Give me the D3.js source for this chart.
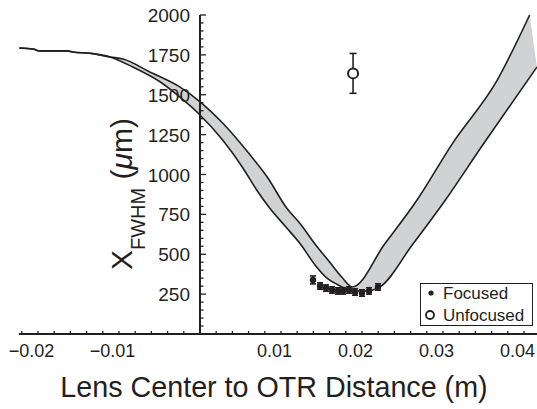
<!DOCTYPE html>
<html lang="en">
<head>
<meta charset="UTF-8">
<title>X FWHM vs lens distance</title>
<style>
  html, body { margin: 0; padding: 0; background: #fff; }
  svg text { font-family: "Liberation Sans", Arial, Helvetica, sans-serif; fill: #231f20; }
</style>
</head>
<body>
<svg id="chart" width="537" height="409"></svg>
<script src="https://d3js.org/d3.v7.min.js"></script>
<script>
// upper / lower edges of the simulated band (x in m, y in um)
const upperX = [-0.0215,-0.0198,-0.0190,-0.0156,-0.0149,-0.0128,-0.0103,-0.0087,-0.0054,-0.0017,0.0010,0.0036,0.0070,0.0091,0.0115,0.0132,0.0150,0.0169,0.0183,0.0196,0.0236,0.0276,0.0320,0.0375,0.0415];
const upperY = [1793,1787,1775,1775,1768,1760,1737,1724,1643,1549,1448,1323,1122,984,790,690,564,445,357,295,564,840,1197,1592,2000];
const lowerX = [-0.0215,-0.0198,-0.0190,-0.0156,-0.0149,-0.0128,-0.0103,-0.0075,-0.0041,-0.0017,0.0008,0.0036,0.0061,0.0078,0.0094,0.0113,0.0132,0.0150,0.0166,0.0181,0.0196,0.0213,0.0230,0.0270,0.0311,0.0357,0.0424];
const lowerY = [1793,1787,1775,1775,1768,1760,1737,1674,1580,1486,1373,1216,1041,903,790,677,564,433,345,301,270,270,295,558,840,1185,1674];

// measured points
const focusedX = [0.01475,0.01562,0.01636,0.01710,0.01784,0.01846,0.01920,0.01994,0.02080,0.02167,0.02278];
const focusedY = [339,301,288,276,270,270,276,263,257,270,295];
const focusedErr = [25,20,20,20,20,20,20,20,20,20,20];
const unfocusedX = [0.0197];
const unfocusedY = [1634];
const unfocusedErr = [125];

const xTickLabels = [-0.02,-0.01,0.01,0.02,0.03,0.04];
const yTickLabels = [250,500,750,1000,1250,1500,1750,2000];

const svg = d3.select("#chart");
const x = d3.scaleLinear().domain([-0.02, 0.04]).range([31.5, 517.5]);
const y = d3.scaleLinear().domain([0, 2000]).range([334, 15]);
const axisX0 = 0.0008;          // where the y axis crosses
const xLeft = x.invert(19), xRight = x.invert(537);

const pts = (xs, ys) => xs.map((v, i) => [x(v), y(ys[i])]);
const upper = pts(upperX, upperY), lower = pts(lowerX, lowerY);
const line = d3.line().curve(d3.curveMonotoneX);

// gray band
const back = line(lower.slice().reverse()).replace(/^M/, "L");
svg.append("path")
  .attr("d", line(upper) + back + "Z")
  .attr("fill", "#d1d2d4").attr("stroke", "none");

[upper, lower].forEach(p => svg.append("path")
  .attr("d", line(p)).attr("fill", "none")
  .attr("stroke", "#231f20").attr("stroke-width", 1.6));

// axes
const ax = svg.append("g").attr("stroke", "#231f20");
ax.append("line").attr("x1", 19).attr("x2", 537)
  .attr("y1", y(0)).attr("y2", y(0)).attr("stroke-width", 2);
ax.append("line").attr("x1", x(axisX0)).attr("x2", x(axisX0))
  .attr("y1", y(2000)).attr("y2", y(0) + 1).attr("stroke-width", 2);

// x minor ticks every 0.002 from the crossing point
d3.range(-11, 21).forEach(k => {
  const xv = axisX0 + k * 0.002;
  if (xv < xLeft || xv > xRight || k === 0) return;
  ax.append("line").attr("x1", x(xv)).attr("x2", x(xv))
    .attr("y1", y(0)).attr("y2", y(0) - 3).attr("stroke-width", 1.3);
});
// y ticks every 50
d3.range(50, 2001, 50).forEach(v => {
  const major = v % 250 === 0;
  ax.append("line").attr("x1", x(axisX0)).attr("x2", x(axisX0) + (major ? 6 : 3.5))
    .attr("y1", y(v)).attr("y2", y(v)).attr("stroke-width", 1.3);
});

svg.append("g").selectAll("text").data(xTickLabels).join("text")
  .attr("x", d => x(d)).attr("y", 357)
  .attr("text-anchor", "middle").attr("font-size", 18)
  .text(d => d3.format("")(d));
svg.append("g").selectAll("text").data(yTickLabels).join("text")
  .attr("x", 190).attr("y", d => y(d) + 7)
  .attr("text-anchor", "end").attr("font-size", 19)
  .text(d => d);

// axis titles
svg.append("text").attr("x", 274).attr("y", 397)
  .attr("text-anchor", "middle").attr("font-size", 28.7)
  .text("Lens Center to OTR Distance (m)");
const yt = svg.append("text").attr("transform", "translate(132,194) rotate(-90)")
  .attr("text-anchor", "middle").attr("font-size", 30);
yt.append("tspan").text("X");
yt.append("tspan").attr("font-size", 20).attr("dy", 13).text("FWHM");
yt.append("tspan").attr("dy", -13).text(" (");
yt.append("tspan").attr("font-style", "italic").text("\u03bc");
yt.append("tspan").text("m)");

// error bars
function errorBars(xs, ys, es, cap) {
  const g = svg.append("g").attr("stroke", "#231f20").attr("stroke-width", 1.6);
  xs.forEach((xv, i) => {
    const cx = x(xv), t = y(ys[i] + es[i]), b = y(ys[i] - es[i]);
    g.append("line").attr("x1", cx).attr("x2", cx).attr("y1", t).attr("y2", b);
    g.append("line").attr("x1", cx - cap).attr("x2", cx + cap).attr("y1", t).attr("y2", t);
    g.append("line").attr("x1", cx - cap).attr("x2", cx + cap).attr("y1", b).attr("y2", b);
  });
}
errorBars(focusedX, focusedY, focusedErr, 3);
svg.append("g").selectAll("circle").data(focusedX).join("circle")
  .attr("cx", d => x(d)).attr("cy", (d, i) => y(focusedY[i])).attr("r", 3.2)
  .attr("fill", "#231f20");

errorBars(unfocusedX, unfocusedY, unfocusedErr, 3.5);
svg.append("g").selectAll("circle").data(unfocusedX).join("circle")
  .attr("cx", d => x(d)).attr("cy", (d, i) => y(unfocusedY[i])).attr("r", 5)
  .attr("fill", "#fff").attr("stroke", "#231f20").attr("stroke-width", 2);

// legend
const lg = svg.append("g");
lg.append("rect").attr("x", 420.5).attr("y", 283.5).attr("width", 112).attr("height", 42)
  .attr("fill", "#fff").attr("stroke", "#231f20").attr("stroke-width", 1);
lg.append("circle").attr("cx", 431).attr("cy", 293).attr("r", 2.6).attr("fill", "#231f20");
lg.append("circle").attr("cx", 430).attr("cy", 315).attr("r", 4)
  .attr("fill", "none").attr("stroke", "#231f20").attr("stroke-width", 1.8);
lg.append("text").attr("x", 443).attr("y", 299).attr("font-size", 17).text("Focused");
lg.append("text").attr("x", 443).attr("y", 321).attr("font-size", 17).text("Unfocused");
</script>
</body>
</html>
